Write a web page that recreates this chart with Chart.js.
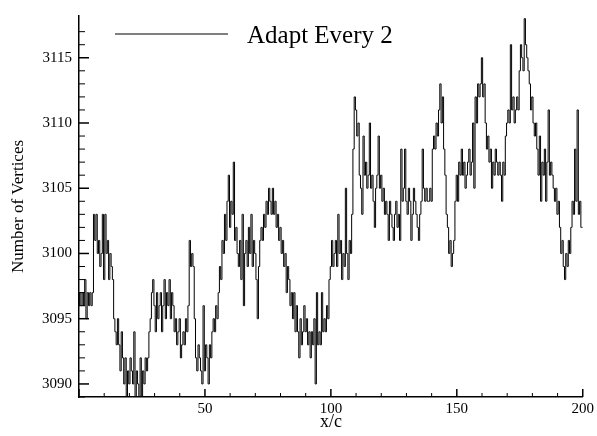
<!DOCTYPE html>
<html>
<head>
<meta charset="utf-8">
<script src="https://cdn.jsdelivr.net/npm/chart.js@4.4.1/dist/chart.umd.min.js"></script>
<style>
  html, body { margin: 0; padding: 0; background: #fff; }
  .wrap { width: 597px; height: 436px; position: relative; }
</style>
</head>
<body>
<div class="wrap"><canvas id="vertChart"></canvas></div>
<script>
/* ============================================================
   Number of vertices vs x/c — "Adapt Every 2"
   values read off the plot, sampled every 0.5 in x/c
   ============================================================ */

const SERIES_LABEL = "Adapt Every 2";
const X_STEP = 0.5;

// x/c 0 .. 49.5
const VERTS_A = [
  3096,3097,3096,3097,3096,3098,3095,3097,3096,3097,
  3096,3097,3103,3101,3103,3100,3101,3099,3100,3103,
  3098,3103,3100,3101,3098,3100,3099,3098,3095,3094,
  3093,3095,3093,3091,3094,3092,3090,3092,3089,3091,
  3090,3092,3091,3090,3094,3089,3091,3090,3089,3092,
  3089,3091,3090,3092,3091,3092,3094,3095,3097,3098,
  3096,3094,3097,3095,3096,3097,3094,3096,3098,3095,
  3097,3096,3098,3095,3097,3096,3094,3095,3093,3094,
  3095,3092,3093,3094,3093,3095,3094,3096,3101,3099,
  3100,3099,3095,3092,3091,3093,3092,3091,3090,3096,
];
// x/c 50 .. 99.5
const VERTS_B = [
  3091,3093,3092,3090,3093,3092,3094,3095,3094,3096,
  3095,3097,3099,3098,3101,3100,3103,3101,3104,3106,
  3102,3104,3103,3107,3101,3102,3100,3099,3101,3098,
  3103,3096,3100,3101,3099,3102,3100,3103,3099,3101,
  3100,3098,3095,3099,3101,3102,3101,3103,3102,3104,
  3103,3105,3104,3103,3105,3103,3104,3102,3103,3101,
  3102,3100,3101,3099,3100,3097,3099,3098,3096,3097,
  3095,3097,3094,3096,3094,3092,3095,3093,3094,3096,
  3094,3095,3093,3094,3092,3094,3093,3095,3090,3097,
  3093,3094,3093,3097,3094,3095,3094,3096,3095,3098,
];
// x/c 100 .. 149.5
const VERTS_C = [
  3099,3101,3099,3100,3101,3099,3103,3100,3101,3098,
  3100,3099,3105,3100,3098,3101,3100,3103,3108,3112,
  3111,3109,3110,3106,3105,3103,3109,3106,3107,3105,
  3106,3110,3105,3106,3104,3102,3105,3106,3109,3105,
  3106,3104,3105,3103,3104,3103,3101,3104,3103,3102,
  3101,3103,3104,3102,3103,3101,3108,3104,3105,3108,
  3104,3103,3105,3104,3101,3103,3105,3104,3103,3102,
  3101,3103,3104,3108,3105,3104,3105,3104,3104,3105,
  3104,3108,3109,3108,3110,3109,3111,3113,3110,3112,
  3108,3106,3103,3102,3100,3101,3099,3100,3101,3104,
];
// x/c 150 .. 200
const VERTS_D = [
  3106,3104,3107,3106,3108,3106,3107,3105,3106,3107,
  3108,3106,3107,3110,3105,3112,3110,3113,3112,3113,
  3115,3112,3113,3110,3108,3109,3107,3108,3105,3107,
  3106,3108,3107,3106,3107,3106,3104,3107,3106,3109,
  3110,3111,3110,3116,3111,3112,3110,3111,3112,3111,
  3114,3116,3115,3114,3118,3116,3115,3114,3113,3111,
  3112,3110,3109,3110,3108,3106,3109,3104,3107,3106,
  3108,3104,3107,3111,3106,3107,3106,3105,3104,3105,
  3103,3104,3102,3100,3101,3099,3098,3100,3099,3101,
  3100,3102,3104,3103,3108,3104,3111,3103,3104,3102,
  3102,
];

const X_MIN = 0, X_MAX = 200, X_MINOR = 10, X_MAJOR = 50;
const Y_MIN = 3089, Y_MAX = 3118.2, Y_MINOR = 1, Y_MAJOR = 5;

const FONT = "'Liberation Serif', 'Times New Roman', serif";

/* ---------- data ---------- */
const verts = [...VERTS_A, ...VERTS_B, ...VERTS_C, ...VERTS_D];
const points = verts.map((v, i) => ({ x: i * X_STEP, y: v }));

/* ---------- inward ticks + legend (tecplot look) ---------- */
const tecplotDecor = {
  id: "tecplotDecor",
  afterDraw(chart) {
    const { ctx, chartArea: a, scales: { x, y } } = chart;
    ctx.save();
    ctx.strokeStyle = "#000";

    const tick = (x0, y0, x1, y1, w) => {
      ctx.lineWidth = w;
      ctx.beginPath(); ctx.moveTo(x0, y0); ctx.lineTo(x1, y1); ctx.stroke();
    };
    x.ticks.forEach((t) => {
      if (!Number.isInteger(t.value)) return;
      const px = x.getPixelForValue(t.value);
      const major = t.value % X_MAJOR === 0;
      tick(px, a.bottom, px, a.bottom - (major ? 8 : 4), major ? 1.5 : 1);
    });
    y.ticks.forEach((t) => {
      if (!Number.isInteger(t.value)) return;
      const py = y.getPixelForValue(t.value);
      const major = t.value % Y_MAJOR === 0;
      tick(a.left, py, a.left + (major ? 10 : 6), py, major ? 1.5 : 1);
    });

    // legend
    tick(115, 34, 228, 34, 1);
    ctx.fillStyle = "#000";
    ctx.font = `25px ${FONT}`;
    ctx.textBaseline = "alphabetic";
    ctx.fillText(chart.data.datasets[0].label, 247, 43);
    ctx.restore();
  },
};

/* ---------- chart ---------- */
new Chart(document.getElementById("vertChart"), {
  type: "line",
  data: {
    datasets: [{
      label: SERIES_LABEL, data: points, stepped: "middle",
      borderColor: "#000", borderWidth: 1, pointRadius: 0, fill: false,
    }],
  },
  options: {
    responsive: true, maintainAspectRatio: false, animation: false,
    layout: { padding: { top: 7, right: 12.5, left: 0, bottom: 0 } },
    plugins: { legend: { display: false }, tooltip: { enabled: false } },
    scales: {
      x: {
        type: "linear", min: X_MIN, max: X_MAX,
        grid: { display: false, drawTicks: false },
        border: { display: true, color: "#000", width: 1.5 },
        ticks: {
          stepSize: X_MINOR, padding: 3, color: "#000", autoSkip: false, maxRotation: 0,
          font: { family: FONT, size: 15 },
          callback: (v) => (v !== 0 && v % X_MAJOR === 0 ? String(v) : ""),
        },
        title: { display: true, text: "x/c", color: "#000", font: { family: FONT, size: 18 }, padding: { top: 0, bottom: 3 } },
        afterFit: (s) => { s.height = 39; },
      },
      y: {
        min: Y_MIN, max: Y_MAX,
        grid: { display: false, drawTicks: false },
        border: { display: true, color: "#000", width: 1.5 },
        ticks: {
          stepSize: Y_MINOR, padding: 7, color: "#000", autoSkip: false,
          font: { family: FONT, size: 15 },
          callback: (v) => (Number.isInteger(v) && v % Y_MAJOR === 0 ? String(v) : ""),
        },
        title: { display: true, text: "Number of Vertices", color: "#000", font: { family: FONT, size: 17 }, padding: { top: 8, bottom: 0 } },
        afterFit: (s) => { s.width = 79; },
      },
    },
  },
  plugins: [tecplotDecor],
});
</script>
</body>
</html>
